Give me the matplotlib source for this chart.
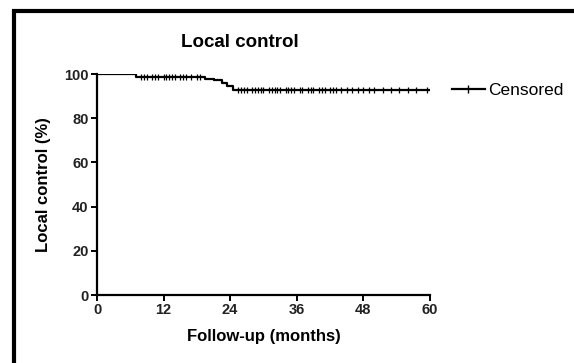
import numpy as np
import matplotlib.pyplot as plt
from matplotlib.lines import Line2D

plt.rcParams['font.family'] = ['Liberation Sans', 'DejaVu Sans']

# Kaplan-Meier steps (months, % local control)
event_times = [0, 7.0, 19.5, 21.0, 22.5, 23.5, 24.5]
surv = [100, 98.6, 97.9, 97.2, 95.8, 94.4, 93.0]
censor_times = [8, 8.5, 9, 10, 10.5, 11, 12, 12.5, 13, 13.5, 14, 15, 15.5, 16, 17,
                18, 18.5, 25.5, 26, 26.5, 27, 28, 28.5, 29, 29.5, 30, 31, 31.5, 32,
                32.5, 33, 34, 34.5, 35, 35.5, 36.5, 37, 38, 38.5, 39, 40, 40.5, 41,
                42, 42.5, 43, 44, 45, 46, 47, 48, 49, 50, 51.5, 53, 54.5, 56, 57.5,
                59.5]
xticks = [0, 12, 24, 36, 48, 60]
yticks = [0, 20, 40, 60, 80, 100]

fig = plt.figure(figsize=(5.74, 3.63), dpi=100)
ax = fig.add_axes([0.169, 0.187, 0.580, 0.609])

t = event_times + [60]
s = surv + [surv[-1]]
ax.step(t, s, where='post', color='black', lw=1.6)
cs = [surv[np.searchsorted(event_times, c, side='right') - 1] for c in censor_times]
ax.plot(censor_times, cs, ls='none', marker='|', color='black', ms=4, mew=0.9)

ax.set_xlim(0, 60)
ax.set_ylim(0, 100)
ax.set_xticks(xticks)
ax.set_yticks(yticks)
for sp in ['top', 'right']:
    ax.spines[sp].set_visible(False)
for sp in ['left', 'bottom']:
    ax.spines[sp].set_linewidth(1.6)
ax.tick_params(direction='out', length=4, width=1.4, labelsize=10.5, pad=2)
for lab in ax.get_xticklabels() + ax.get_yticklabels():
    lab.set_fontweight('bold')
    lab.set_color('#222222')
ax.set_xlabel('Follow-up (months)', fontsize=12, fontweight='bold', labelpad=8)
ax.set_ylabel('Local control (%)', fontsize=12, fontweight='bold')
ax.yaxis.set_label_coords(-0.138, 0.5)

fig.text(0.418, 0.882, 'Local control', fontsize=13.5, fontweight='bold',
         ha='center', va='center')

h = Line2D([], [], color='black', lw=1.6, marker='|', ms=6, mew=1.0)
fig.legend([h], ['Censored'], loc='center left', bbox_to_anchor=(0.775, 0.752),
           frameon=False, fontsize=12.5, handlelength=1.9, handletextpad=0.2,
           borderaxespad=0)

# heavy frame on top and left
fig.add_artist(Line2D([0.024, 0.024, 1.0], [0.0, 0.97, 0.97],
                      transform=fig.transFigure, color='black', lw=3.0,
                      solid_joinstyle='miter'))

fig.savefig('out.png', dpi=100)
